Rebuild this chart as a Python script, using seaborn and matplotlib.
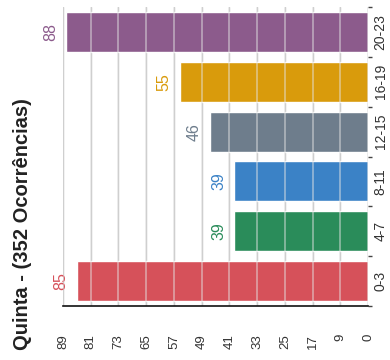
import numpy as np
import pandas as pd
import matplotlib
matplotlib.use("Agg")
import matplotlib.pyplot as plt
import seaborn as sns

# Occurrences per time slot (Thursday)
categories = ["0-3", "4-7", "8-11", "12-15", "16-19", "20-23"]
counts = [85, 39, 39, 46, 55, 88]
colors = ["#D6515A", "#2A8C5A", "#3B82C6", "#6E7D8C", "#D99B0C", "#8C5B8C"]
title = "Quinta - (352 Ocorrências)"
value_max = 89
n_ticks = 12

sns.set_theme(style="white")
narrow = ["Liberation Sans Narrow", "Liberation Sans", "DejaVu Sans"]
plt.rcParams["font.family"] = narrow

df = pd.DataFrame({"faixa": categories, "total": counts})
palette = dict(zip(categories, colors))

fig = plt.figure(figsize=(3.9, 3.6), dpi=100)
rect = [63 / 390, 1 - 306 / 360, (368 - 63) / 390, (306 - 7) / 360]
ax = fig.add_axes(rect)

order = categories[::-1]
sns.barplot(data=df, y="faixa", x="total", hue="faixa", order=order,
            palette=palette, width=0.8, dodge=False, legend=False, ax=ax,
            saturation=1)

ax.set_xlim(value_max, 0)
ax.set_ylim(len(categories) - 0.5, -0.5)

# value axis: evenly spaced ticks, labels rounded up
ticks = np.linspace(0, value_max, n_ticks)
ax.set_xticks(ticks)
ax.set_xticklabels([str(int(np.ceil(t - 1e-9))) for t in ticks], rotation=90,
                   fontsize=9.5, color="#333333")
ax.tick_params(axis="x", length=0, pad=20)
ax.set_axisbelow(True)
ax.grid(axis="x", color="#bdbdbd", linewidth=1.0)
ax.grid(axis="y", visible=False)

# category axis on the right
ax.yaxis.tick_right()
ax.set_yticks(range(len(order)))
ax.set_yticklabels(order, rotation=90, va="center", fontsize=10, color="#333333")
ax.tick_params(axis="y", which="major", length=0, pad=4)
ax.set_yticks(np.arange(-0.5, len(order), 1.0), minor=True)
ax.tick_params(axis="y", which="minor", length=3, width=1, color="#444444", right=True, left=False)

ax.set_xlabel("")
ax.set_ylabel("")
for side in ["top", "left", "right", "bottom"]:
    ax.spines[side].set_visible(False)

# transparent overlay carrying light grid lines across the bars
grid_ax = fig.add_axes(rect, zorder=ax.get_zorder() + 1, facecolor="none")
grid_ax.set_xlim(ax.get_xlim())
grid_ax.set_ylim(0, 1)
for t in ticks:
    grid_ax.axvline(t, color="#e4e4e4", alpha=0.6, linewidth=1.1)
grid_ax.set_xticks([])
grid_ax.set_yticks([])
for side in ["top", "left", "right"]:
    grid_ax.spines[side].set_visible(False)
grid_ax.spines["bottom"].set_color("#111111")
grid_ax.spines["bottom"].set_linewidth(1.2)

# value labels beside each bar
for i, cat in enumerate(order):
    v = counts[categories.index(cat)]
    ax.annotate(str(v), xy=(v, i), xytext=(-6, 0), textcoords="offset points",
                rotation=90, ha="right", va="center", fontsize=11.5,
                color=palette[cat], zorder=5)

fig.text(0.058, 1 - 350 / 360, title, rotation=90, ha="center", va="bottom",
         fontsize=14.5, fontweight="bold", color="#222222",
         family=["Liberation Sans", "DejaVu Sans"])

fig.savefig("out.png", dpi=100)
